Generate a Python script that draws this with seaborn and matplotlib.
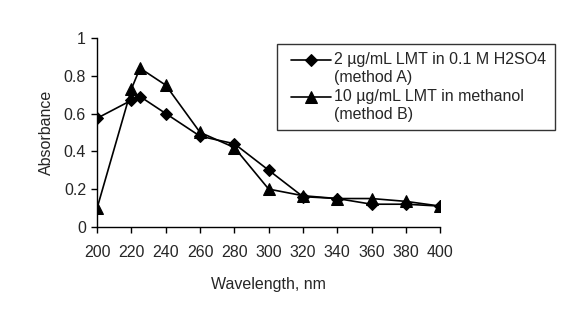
import matplotlib
matplotlib.use("Agg")
import matplotlib.pyplot as plt
from matplotlib.legend_handler import HandlerLine2D
import seaborn as sns
import numpy as np

# data
wavelength = [200, 220, 225, 240, 260, 280, 300, 320, 340, 360, 380, 400]
abs_method_a = [0.575, 0.67, 0.69, 0.60, 0.48, 0.44, 0.30, 0.16, 0.15, 0.12, 0.12, 0.11]
abs_method_b = [0.10, 0.73, 0.84, 0.75, 0.50, 0.42, 0.20, 0.165, 0.15, 0.15, 0.135, 0.11]

label_a = "2 µg/mL LMT in 0.1 M H2SO4\n(method A)"
label_b = "10 µg/mL LMT in methanol\n(method B)"

sns.set_style("ticks")
plt.rcParams["font.family"] = ["Liberation Sans", "DejaVu Sans"]


# legend handle sitting on the first line of a two-line label
class FirstLineHandler(HandlerLine2D):
    def create_artists(self, legend, orig_handle, xdescent, ydescent,
                       width, height, fontsize, trans):
        return super().create_artists(legend, orig_handle, xdescent - 4.5,
                                      ydescent - 13.5, width - 4.5, height,
                                      fontsize, trans)


fig = plt.figure(figsize=(5.68, 3.16), dpi=100)
ax = fig.add_axes([0.171, 0.282, 0.604, 0.598])

sns.lineplot(x=wavelength, y=abs_method_a, ax=ax, color="black", lw=1.2,
             marker="D", markersize=6.5, markeredgecolor="black", label=label_a)
sns.lineplot(x=wavelength, y=abs_method_b, ax=ax, color="black", lw=1.2,
             marker="^", markersize=8, markeredgecolor="black", label=label_b)

ax.set_xlim(200, 400)
ax.set_ylim(0, 1)
ax.set_xticks(np.arange(200, 401, 20))
ax.set_yticks([0, 0.2, 0.4, 0.6, 0.8, 1])
ax.set_yticklabels(["0", "0.2", "0.4", "0.6", "0.8", "1"])
ax.tick_params(axis="both", labelsize=11.5, direction="out", length=4, width=1, color="black")
ax.tick_params(axis="x", pad=9)
ax.tick_params(axis="y", pad=4)
for s in ["top", "right"]:
    ax.spines[s].set_visible(False)
for s in ["left", "bottom"]:
    ax.spines[s].set_color("black")
    ax.spines[s].set_linewidth(1)
ax.set_xlabel("Wavelength, nm", fontsize=11.5, labelpad=12)
ax.set_ylabel("Absorbance", fontsize=11.5, labelpad=7)

handles, labels = ax.get_legend_handles_labels()
leg = ax.legend(handles, labels, loc="upper left",
                bbox_to_anchor=(277 / 568, 1 - 44 / 316),
                bbox_transform=fig.transFigure, frameon=True, fancybox=False,
                edgecolor="black", fontsize=11.5, labelspacing=0.25,
                handlelength=2.9, handletextpad=0.2, borderpad=0.5,
                borderaxespad=0,
                handler_map={h: FirstLineHandler() for h in handles})
leg.get_frame().set_linewidth(1)
for t in leg.get_texts():
    t.set_linespacing(1.25)

fig.savefig("out.png", dpi=100)
